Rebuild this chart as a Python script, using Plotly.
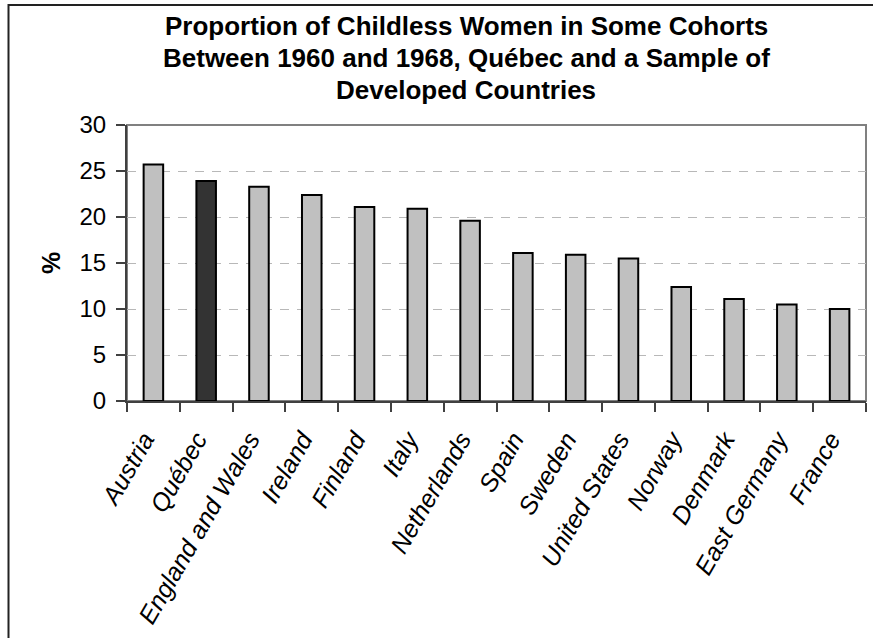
import plotly.graph_objects as go

# Childless women by country, cohorts born 1960-1968 (%)
countries = [
    "Austria", "Québec", "England and Wales", "Ireland", "Finland", "Italy",
    "Netherlands", "Spain", "Sweden", "United States", "Norway", "Denmark",
    "East Germany", "France",
]
childless_pct = [25.7, 23.9, 23.3, 22.4, 21.1, 20.9, 19.6, 16.1, 15.9, 15.5,
                 12.4, 11.1, 10.5, 10.0]
highlight = "Québec"
y_ticks = [0, 5, 10, 15, 20, 25, 30]
title_lines = [
    "Proportion of Childless Women in Some Cohorts",
    "Between 1960 and 1968, Québec and a Sample of",
    "Developed Countries",
]

bar_colors = ["#333333" if c == highlight else "#C0C0C0" for c in countries]

W, H = 873, 638
L, R, T, B = 127, 7, 125, 237
plot_w = W - L - R
plot_h = H - T - B

FONT = "Liberation Sans, Arial, sans-serif"

fig = go.Figure(
    go.Bar(
        x=countries,
        y=childless_pct,
        marker=dict(color=bar_colors, line=dict(color="#000000", width=2)),
        hoverinfo="x+y",
    )
)


def px_to_paper_x(px):
    return (px - L) / plot_w


def px_to_paper_y(py):
    return (H - B - py) / plot_h


shapes = [
    # grey plot-area border (top/right show; left/bottom covered by axis lines)
    dict(type="rect", xref="paper", yref="paper", layer="below",
         x0=0, x1=1, y0=0, y1=1,
         line=dict(color="#808080", width=2), fillcolor="rgba(0,0,0,0)"),
    # outer chart frame (runs past the right and bottom edges of the page)
    dict(type="rect", xref="paper", yref="paper",
         x0=px_to_paper_x(8.5), x1=px_to_paper_x(900),
         y0=px_to_paper_y(680), y1=px_to_paper_y(5),
         line=dict(color="#222222", width=2), fillcolor="rgba(0,0,0,0)"),
]

# three-line bold title, one annotation per line
annotations = [
    dict(text=f"<b>{line}</b>", xref="paper", yref="paper",
         x=px_to_paper_x(466), y=px_to_paper_y(yc),
         xanchor="center", yanchor="middle", showarrow=False,
         font=dict(family=FONT, size=26, color="#000000"))
    for line, yc in zip(title_lines, [26, 58, 90])
]

fig.update_layout(
    width=W, height=H,
    margin=dict(l=L, r=R, t=T, b=B, pad=0),
    paper_bgcolor="#FFFFFF",
    plot_bgcolor="#FFFFFF",
    bargap=0.63,
    showlegend=False,
    font=dict(family=FONT, color="#000000"),
    shapes=shapes,
    annotations=annotations,
)

fig.update_xaxes(
    type="category",
    tickangle=-60,
    tickfont=dict(family=FONT, size=25, style="italic"),
    ticks="outside", ticklen=9, tickwidth=1.5, tickcolor="#404040",
    tickson="boundaries",
    ticklabelstandoff=12,
    ticklabelshift=-9,
    showline=True, linecolor="#404040", linewidth=2,
    showgrid=False,
)

fig.update_yaxes(
    range=[0, 30],
    tickvals=y_ticks,
    tickfont=dict(family=FONT, size=24),
    ticks="outside", ticklen=9, tickwidth=1.5, tickcolor="#404040",
    ticklabelstandoff=5,
    showline=True, linecolor="#404040", linewidth=2,
    showgrid=True, gridcolor="#B8B8B8", gridwidth=1, griddash="9px,8px",
    zeroline=False,
    title=dict(text="<b>%</b>", font=dict(family=FONT, size=25), standoff=12),
)

fig.write_html("out.html")
